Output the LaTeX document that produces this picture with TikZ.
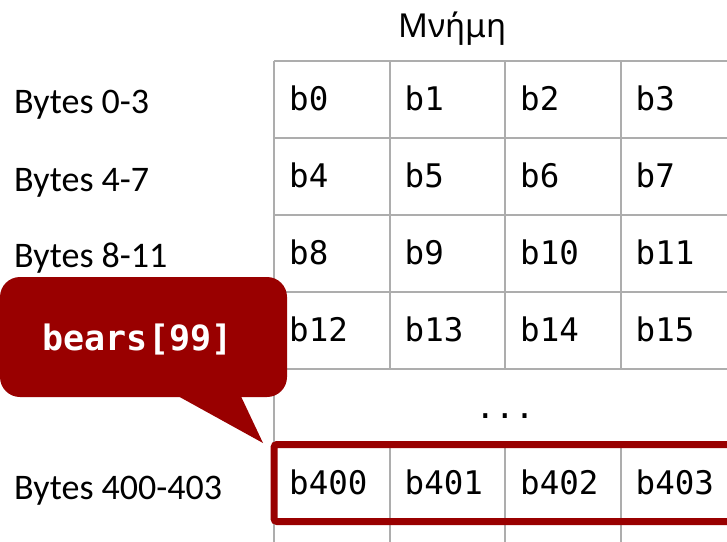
\documentclass[tikz,border=0pt]{standalone}
\usepackage{fontspec}
\setmainfont{Carlito}
\newfontfamily\monof{DejaVu Sans Mono}
\newfontfamily\titlef{Noto Sans}
\definecolor{gridgray}{HTML}{ADADAD}
\definecolor{darkred}{HTML}{990000}
\begin{document}
\begin{tikzpicture}[x=1pt,y=-1pt,
  gridline/.style={draw=gridgray,line width=2pt},
  cell/.style={anchor=base west,inner sep=0pt,font=\monof\fontsize{32.5}{37}\selectfont},
  rowlabel/.style={anchor=base west,inner sep=0pt,font=\fontsize{36}{40}\selectfont},
  titlelabel/.style={anchor=base,inner sep=0pt,font=\titlef\fontsize{33}{38}\selectfont},
  calloutbox/.style={fill=darkred,rounded corners=20pt,inner sep=0pt,minimum width=287pt,minimum height=120pt},
  callouttext/.style={anchor=base,inner sep=0pt,text=white,font=\monof\bfseries\fontsize{35}{40}\selectfont},
  highlight/.style={draw=darkred,line width=7pt,rounded corners=3pt}]
\useasboundingbox (0,0) rectangle (727,541);
\clip (0,0) rectangle (727,541);
% grid
\foreach \y in {61,138,215,292,369,445,522}
  \draw[gridline] (274,\y) -- (740,\y);
\draw[gridline] (274,61) -- (274,545);
\foreach \x in {389.5,505,620.5}{
  \draw[gridline] (\x,61) -- (\x,369);
  \draw[gridline] (\x,445) -- (\x,545);
}
% title
\node[titlelabel] (title) at (452.5,37) {Μνήμη};
% cells
\foreach \r in {0,1,2,3}{
  \foreach \c in {0,1,2,3}{
    \pgfmathtruncatemacro{\n}{4*\r+\c}
    \node[cell] (cell-\r-\c) at (274+15+115.5*\c, 61+49+77*\r) {b\n};
  }
}
\node[cell,anchor=base] (dots) at (505,418) {...};
\foreach \c in {0,1,2,3}{
  \pgfmathtruncatemacro{\n}{400+\c}
  \node[cell] (cell-last-\c) at (274+15+115.5*\c, 445+49) {b\n};
}
% row labels
\node[rowlabel] (lab0) at (14,113) {Bytes 0-3};
\node[rowlabel] (lab1) at (14,191) {Bytes 4-7};
\node[rowlabel] (lab2) at (14,267) {Bytes 8-11};
\node[rowlabel] (lab400) at (14,499) {Bytes 400-403};
% highlight box
\draw[highlight] (274,444.5) rectangle (745,521.5);
% callout
\coordinate (tip) at (263,443);
\node[calloutbox] (callout) at (143.5,337) {};
\fill[darkred] (167,390) -- (238,390) -- (tip) -- cycle;
\node[callouttext] (calltext) at (137.5,350) {bears[99]};
\end{tikzpicture}
\end{document}
